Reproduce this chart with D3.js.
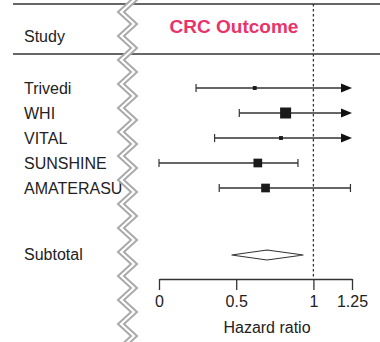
<!DOCTYPE html>
<html lang="en">
<head>
	<meta charset="UTF-8">
	<title>CRC Outcome</title>
	<style>
		body { margin: 0; background: #fff; }
		text { font-family: "Liberation Sans", Arial, Helvetica, sans-serif; }
	</style>
</head>
<body>
	<svg width="380" height="342"></svg>

	<script src="https://d3js.org/d3.v7.min.js"></script>
	<script>
		// trial estimates (hazard ratio with 95% CI)
		var studies = ["Trivedi", "WHI", "VITAL", "SUNSHINE", "AMATERASU"];
		var hr      = [0.62, 0.82, 0.79, 0.64, 0.69];
		var lower   = [0.24, 0.52, 0.36, 0.00, 0.39];
		var upper   = [1.60, 1.30, 1.70, 0.90, 1.24];
		var weights = [1, 8, 1, 5, 5];   // relative weight -> box size

		var subtotal = {label: "Subtotal", hr: 0.70, lower: 0.47, upper: 0.935};

		var tickValues = [0, 0.5, 1, 1.25];

		var svg = d3.select("svg");
		var width = +svg.attr("width");
		var height = +svg.attr("height");

		var ink = "#333";

		var x = d3.scaleLinear()
			.domain([0, 1.25])
			.range([159, 352]);

		var rowY = d3.scalePoint()
			.domain(studies)
			.range([88, 188]);

		var boxSize = d3.scaleSqrt()
			.domain([0, d3.max(weights)])
			.range([0, 11]);

		var axisY = 279;

		// header rules
		[4, 54].forEach(function(y){
			svg.append("line")
				.attr("x1", 13).attr("x2", width)
				.attr("y1", y).attr("y2", y)
				.attr("stroke", ink)
				.attr("stroke-width", 1.4);
		});

		svg.append("text")
			.attr("x", 24).attr("y", 42)
			.attr("font-size", 16)
			.attr("fill", "#222")
			.text("Study");

		svg.append("text")
			.attr("x", 234).attr("y", 33)
			.attr("text-anchor", "middle")
			.attr("font-size", 19)
			.attr("font-weight", "bold")
			.attr("fill", "#e8336b")
			.text("CRC Outcome");

		// null line at HR = 1
		svg.append("line")
			.attr("x1", x(1)).attr("x2", x(1))
			.attr("y1", 4).attr("y2", axisY)
			.attr("stroke", ink)
			.attr("stroke-width", 1.3)
			.attr("stroke-dasharray", "2.5,2.5");

		// study labels
		svg.selectAll(".label")
			.data(studies)
			.enter()
			.append("text")
			.attr("class", "label")
			.attr("x", 24)
			.attr("y", function(d){ return rowY(d) + 6; })
			.attr("font-size", 16)
			.attr("fill", "#222")
			.text(function(d){ return d; });

		// confidence intervals
		var xMax = x.domain()[1];
		var rows = svg.selectAll(".row")
			.data(studies)
			.enter()
			.append("g")
			.attr("class", "row");

		rows.append("line")
			.attr("x1", function(d, i){ return x(lower[i]); })
			.attr("x2", function(d, i){ return upper[i] > xMax ? x(xMax) - 8 : x(upper[i]); })
			.attr("y1", function(d){ return rowY(d); })
			.attr("y2", function(d){ return rowY(d); })
			.attr("stroke", ink)
			.attr("stroke-width", 1.3);

		// lower caps
		rows.append("line")
			.attr("x1", function(d, i){ return x(lower[i]); })
			.attr("x2", function(d, i){ return x(lower[i]); })
			.attr("y1", function(d){ return rowY(d) - 4; })
			.attr("y2", function(d){ return rowY(d) + 4; })
			.attr("stroke", ink)
			.attr("stroke-width", 1.2);

		// upper caps or arrow heads when CI runs off the axis
		rows.each(function(d, i){
			var g = d3.select(this);
			var y = rowY(d);
			if (upper[i] > xMax) {
				var tip = x(xMax);
				g.append("path")
					.attr("d", "M" + (tip - 11) + "," + (y - 4.5) + "L" + tip + "," + y + "L" + (tip - 11) + "," + (y + 4.5) + "Z")
					.attr("fill", "#111");
			} else {
				g.append("line")
					.attr("x1", x(upper[i])).attr("x2", x(upper[i]))
					.attr("y1", y - 4).attr("y2", y + 4)
					.attr("stroke", ink)
					.attr("stroke-width", 1.2);
			}
		});

		// point estimates
		rows.append("rect")
			.attr("x", function(d, i){ return x(hr[i]) - boxSize(weights[i]) / 2; })
			.attr("y", function(d, i){ return rowY(d) - boxSize(weights[i]) / 2; })
			.attr("width", function(d, i){ return boxSize(weights[i]); })
			.attr("height", function(d, i){ return boxSize(weights[i]); })
			.attr("fill", "#1a1a1a");

		// pooled estimate
		var subY = 255;
		svg.append("text")
			.attr("x", 24).attr("y", subY + 5)
			.attr("font-size", 16)
			.attr("fill", "#222")
			.text(subtotal.label);

		svg.append("path")
			.attr("d", "M" + x(subtotal.lower) + "," + subY +
				"L" + x(subtotal.hr) + "," + (subY - 5) +
				"L" + x(subtotal.upper) + "," + subY +
				"L" + x(subtotal.hr) + "," + (subY + 5) + "Z")
			.attr("fill", "#fff")
			.attr("stroke", ink)
			.attr("stroke-width", 1.1);

		// axis
		var xAxis = d3.axisBottom(x)
			.tickValues(tickValues)
			.tickFormat(d3.format("~g"))
			.tickSize(11)
			.tickSizeOuter(0);

		var ax = svg.append("g")
			.attr("transform", "translate(0," + axisY + ")")
			.call(xAxis);
		ax.select(".domain").attr("stroke", ink).attr("stroke-width", 1.3);
		ax.selectAll(".tick line").attr("stroke", ink).attr("stroke-width", 1.3);
		ax.selectAll(".tick text")
			.attr("font-family", "Liberation Sans, Arial, sans-serif")
			.attr("font-size", 16)
			.attr("fill", "#222")
			.attr("dy", "0.9em");

		svg.append("text")
			.attr("x", 267).attr("y", 333)
			.attr("text-anchor", "middle")
			.attr("font-size", 16)
			.attr("fill", "#222")
			.text("Hazard ratio");

		// axis break: white band with zigzag edges
		var step = 12, amp = 13, gap = 6, x0 = 118;
		var ys = d3.range(-step, height + 2 * step, step);
		var leftPts = ys.map(function(y, i){ return [x0 + (i % 2 ? amp : 0), y]; });
		var rightPts = leftPts.map(function(p){ return [p[0] + gap, p[1]]; });

		var line = d3.line();
		svg.append("path")
			.attr("d", line(leftPts.concat(rightPts.slice().reverse())) + "Z")
			.attr("fill", "#fff");
		[leftPts, rightPts].forEach(function(pts){
			svg.append("path")
				.attr("d", line(pts))
				.attr("fill", "none")
				.attr("stroke", "#aaa")
				.attr("stroke-width", 2);
		});
	</script>
</body>
</html>
